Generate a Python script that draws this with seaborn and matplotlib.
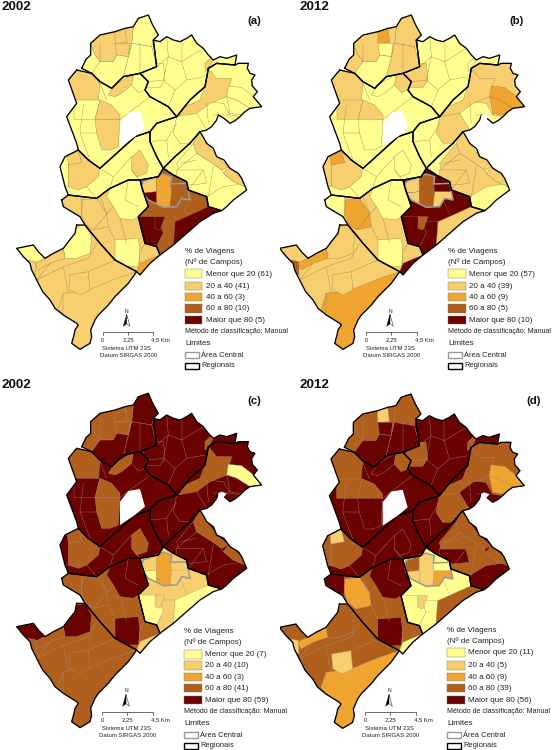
import matplotlib
matplotlib.use("Agg")
import matplotlib.pyplot as plt
import seaborn as sns
from matplotlib.patches import Polygon, Rectangle

# map outlines (a) and reused for all four panels
venda_nova = [(245,205),(258,178),(272,165),(272,130),(300,105),(345,95),(375,85),(400,80),(415,55),(445,45),(458,75),(475,105),(460,120),(470,200),(420,220),(370,230),(335,265),(300,245),(275,220)]
norte = [(460,120),(480,125),(500,110),(520,120),(540,125),(560,115),(575,105),(590,130),(610,145),(625,165),(640,180),(660,170),(680,175),(695,170),(710,165),(705,195),(650,190),(625,205),(615,260),(570,300),(530,350),(505,320),(450,290),(435,270),(445,245),(420,220),(470,200)]
nordeste = [(625,205),(650,190),(705,195),(715,190),(745,190),(742,205),(750,220),(765,225),(755,240),(757,258),(772,275),(760,290),(785,320),(750,325),(735,335),(720,350),(705,362),(690,370),(672,355),(655,345),(650,360),(635,380),(620,390),(600,395),(570,430),(525,470),(490,505),(470,470),(450,425),(450,395),(470,370),(530,350),(570,300),(615,260)]
pampulha = [(230,210),(275,220),(300,245),(335,265),(370,230),(420,220),(445,245),(435,270),(450,290),(505,320),(530,350),(470,370),(450,395),(405,410),(350,460),(300,505),(265,480),(235,450),(230,430),(200,350),(230,310),(205,240)]
noroeste = [(235,450),(265,480),(300,505),(350,460),(405,410),(450,395),(450,425),(470,470),(490,505),(475,530),(420,540),(385,540),(330,565),(290,595),(205,585),(195,560),(180,500),(195,470)]
leste = [(600,395),(612,415),(620,430),(640,445),(650,470),(672,480),(690,505),(715,520),(725,535),(740,570),(720,585),(700,600),(680,620),(665,632),(625,620),(620,590),(565,570),(560,545),(520,525),(490,505),(525,470),(570,430)]
centro_sul = [(420,540),(475,530),(490,505),(520,525),(560,545),(565,570),(620,590),(625,620),(665,632),(640,640),(600,665),(560,700),(520,735),(480,765),(470,740),(435,730),(415,650),(445,620),(435,590),(425,560)]
oeste = [(185,600),(205,585),(290,595),(330,565),(385,540),(420,540),(425,560),(435,590),(445,620),(415,650),(435,730),(470,740),(480,765),(450,790),(420,825),(410,815),(345,780),(300,730),(255,675),(240,650),(190,620)]
barreiro = [(230,675),(255,675),(300,730),(345,780),(410,815),(385,850),(365,870),(345,890),(325,915),(310,930),(295,945),(285,960),(272,990),(275,1010),(270,1030),(240,1048),(215,1030),(222,1005),(225,990),(235,975),(230,970),(190,945),(165,925),(150,900),(128,875),(110,840),(95,810),(90,790),(70,770),(50,745),(100,735),(115,755),(135,775),(160,760),(190,745),(205,725),(225,700)]
regions = [venda_nova, norte, nordeste, pampulha, noroeste, leste, centro_sul, oeste, barreiro]
region_classes = [[0,0,4,4],[0,0,4,4],[0,0,4,4],[0,0,4,4],[0,0,4,4],[0,0,4,4],[3,4,1,0],[1,1,3,3],[1,1,3,3]]

# (region index, polygon, class in a/b/c/d) - later ones paint over earlier ones
zones = [
    (0,[(400,80),(415,55),(445,45),(475,105),(460,120),(455,140),(395,130)],[0,1,4,3]),
    (0,[(395,130),(455,140),(470,200),(420,220),(370,230),(385,170)],[0,1,4,4]),
    (0,[(300,105),(345,95),(400,80),(395,130),(385,170),(350,165),(340,185),(300,185),(285,165),(270,130)],[1,1,3,3]),
    (0,[(345,95),(375,85),(380,128),(345,130)],[1,2,3,1]),
    (0,[(345,130),(390,130),(385,170),(350,165)],[1,0,3,4]),
    (0,[(245,205),(270,130),(285,165),(300,185),(300,210),(275,220)],[0,1,3,3]),
    (0,[(275,220),(300,185),(340,185),(350,165),(385,170),(370,230),(335,265),(300,245)],[0,0,4,4]),
    (1,[(430,190),(490,190),(495,240),(480,262),(440,262),(430,225)],[0,1,4,3]),
    (1,[(615,190),(630,175),(640,180),(625,205),(615,215)],[1,0,3,3]),
    (2,[(625,205),(650,190),(705,195),(715,190),(745,190),(750,220),(765,225),(755,255),(772,275),(785,320),(750,325),(720,350),(690,345),(670,310),(620,305),(615,260)],[0,1,4,3]),
    (2,[(625,205),(650,235),(695,235),(680,290),(630,310),(590,340),(555,385),(530,370),(545,325),(600,300),(615,260)],[1,1,3,3]),
    (2,[(685,258),(725,262),(755,285),(785,320),(750,325),(710,300),(680,290)],[0,2,0,2]),
    (2,[(680,290),(710,300),(750,325),(720,345),(690,340)],[0,2,4,2]),
    (2,[(530,350),(590,340),(620,390),(600,395),(570,430),(540,430),(520,400)],[0,1,4,3]),
    (3,[(215,225),(235,210),(275,220),(300,250),(295,300),(250,315),(225,300),(205,250)],[1,1,3,3]),
    (3,[(370,240),(400,222),(395,255),(365,280),(345,290),(325,285),(345,255)],[1,0,3,4]),
    (3,[(400,222),(420,220),(445,245),(435,270),(415,278),(395,255)],[0,1,4,3]),
    (3,[(222,300),(300,300),(285,358),(222,358)],[0,1,4,3]),
    (3,[(300,300),(335,315),(360,345),(360,358),(285,358)],[1,1,3,3]),
    (3,[(285,358),(360,358),(355,440),(330,450),(305,450),(290,400)],[1,0,3,4]),
    (4,[(235,450),(265,480),(300,505),(295,530),(260,560),(235,570),(205,560),(205,500),(205,470)],[1,1,3,3]),
    (4,[(180,500),(195,470),(205,470),(205,560),(195,560)],[0,1,4,3]),
    (4,[(202,470),(235,450),(245,488),(205,495)],[1,2,3,1]),
    (4,[(395,470),(420,450),(445,495),(440,520),(410,530),(395,510)],[1,0,3,4]),
    (5,[(580,430),(590,460),(630,485),(665,510),(670,520),(700,545),(735,550),(670,560),(620,590),(565,570),(560,545),(540,530),(530,490)],[0,1,4,3]),
    (5,[(600,395),(620,430),(650,470),(685,500),(665,510),(630,485),(590,460),(580,430)],[1,1,3,3]),
    (5,[(685,500),(725,535),(735,560),(700,545),(670,520)],[1,1,3,3]),
    (5,[(530,510),(610,510),(620,550),(570,555),(530,530)],[0,1,4,4]),
    (6,[(415,650),(470,650),(480,665),(490,700),(470,740),(435,730)],[4,4,0,0]),
    (6,[(480,665),(525,665),(520,735),(480,765),(470,740),(490,700)],[3,4,1,0]),
    (6,[(525,665),(570,645),(625,620),(665,632),(640,640),(600,665),(560,700),(520,735)],[4,1,0,3]),
    (6,[(465,650),(495,650),(480,690),(465,685)],[4,3,1,1]),
    (6,[(430,545),(470,530),(470,575),(440,578),(430,580),(425,560)],[1,1,1,3]),
    (6,[(430,580),(440,578),(470,575),(470,612),(445,600)],[4,1,0,1]),
    (6,[(470,530),(490,522),(515,530),(512,552),(515,575),(510,620),(490,622),(470,612)],[2,3,2,1]),
    (6,[(512,552),(560,550),(565,575),(515,580)],[3,4,1,0]),
    (6,[(515,575),(565,575),(570,600),(545,595),(530,620),(510,620)],[3,1,1,2]),
    (7,[(330,565),(385,540),(420,540),(425,560),(435,590),(445,620),(415,650),(400,660),(360,655),(340,620),(320,590)],[0,0,4,4]),
    (7,[(185,600),(205,585),(245,590),(245,645),(240,650),(190,620)],[1,0,3,4]),
    (7,[(247,600),(290,595),(320,640),(325,680),(280,690),(255,670),(245,640)],[1,2,3,2]),
    (7,[(345,720),(415,715),(420,760),(415,800),(380,800),(345,780)],[0,0,4,4]),
    (7,[(435,730),(470,740),(480,765),(455,785),(420,790),(418,760)],[1,1,3,3]),
    (7,[(480,765),(450,790),(420,825),(410,815),(420,790),(455,775)],[2,4,1,0]),
    (8,[(190,745),(225,700),(230,680),(255,675),(275,710),(270,760),(230,775),(195,775)],[0,1,4,3]),
    (8,[(50,745),(100,735),(135,775),(105,790),(85,785)],[0,1,4,3]),
    (8,[(85,780),(108,785),(108,825),(98,820)],[1,3,3,1]),
    (8,[(105,790),(135,775),(190,745),(195,775),(150,790),(115,810)],[1,2,3,2]),
    (8,[(175,925),(190,880),(265,870),(350,835),(410,815),(385,850),(345,890),(310,930),(285,960),(272,990),(275,1010),(270,1030),(240,1048),(215,1030),(225,990),(230,970),(190,945)],[1,2,3,2]),
    (8,[(207,825),(265,815),(270,870),(240,885),(210,870)],[1,1,3,1]),
]

white_hole = [(385,338),(420,332),(435,385),(405,410),(360,440),(360,370)]
small_hole = [(655,345),(665,340),(680,346),(670,358),(655,360)]
small_hole_panels = [False, True, True, True]
central_area = [(430,545),(470,530),(490,522),(515,530),(512,552),(560,550),(565,575),(570,600),(545,595),(530,620),(490,622),(470,612),(445,600),(430,580),(425,560)]

# thin neighbourhood boundaries not covered by the zones above
thin_lines = [
    [(500,110),(505,170),(470,200)], [(505,170),(545,185),(560,240),(525,270),(505,320)], [(545,185),(610,145)],
    [(560,240),(615,230)], [(445,245),(490,240),(525,270)], [(490,240),(505,170)], [(545,125),(545,185)],
    [(450,425),(500,420),(530,370)], [(500,420),(505,470)], [(620,305),(625,370)], [(690,345),(640,345)],
    [(540,490),(590,480)], [(565,570),(610,510)], [(640,500),(625,590)], [(590,460),(530,510)],
    [(110,840),(190,800),(265,775),(290,730)], [(190,800),(205,880)], [(265,815),(345,780)], [(190,880),(190,945)], [(150,790),(110,840)],
    [(300,505),(340,530),(330,565)], [(340,530),(395,470)], [(395,510),(420,540)], [(260,560),(290,595)],
    [(300,250),(320,300)], [(250,315),(240,400),(270,480)], [(290,400),(240,400)], [(360,358),(450,290)],
    [(320,640),(300,590)], [(340,620),(280,690)], [(360,655),(380,730)], [(325,680),(345,720)],
    [(385,540),(375,600),(415,620)], [(300,185),(300,130)], [(420,130),(420,220)],
    [(560,645),(540,600)],
]

class_colors = ["#FFFF8F", "#F8CF6E", "#EFA52F", "#B0601C", "#6A0202"]
legend_labels = {
    "a": ["Menor que 20 (61)", "20 a 40 (41)", "40 a 60 (3)", "60 a 80 (10)", "Maior que 80 (5)"],
    "b": ["Menor que 20 (57)", "20 a 40 (39)", "40 a 60 (9)", "60 a 80 (5)", "Maior que 80 (10)"],
    "c": ["Menor que 20 (7)", "20 a 40 (10)", "40 a 60 (3)", "60 a 80 (41)", "Maior que 80 (59)"],
    "d": ["Menor que 20 (11)", "20 a 40 (5)", "40 a 60 (9)", "60 a 80 (39)", "Maior que 80 (56)"],
}
panel_letters = ["a", "b", "c", "d"]
panel_years = ["2002", "2012", "2002", "2012"]
# pixel spots of the panels and the small differences of their layout (units: 1/3 px)
panel_origin = [(0, 0), (280, 0), (0, 375), (280, 375)]
map_shift = [(0, 0), (-51, 0), (0, 10), (-52, 12)]
year_pos = [(5, 20), (57, 22), (5, 30), (57, 30)]
letter_pos = [(762, 62), (710, 62), (762, 78), (760, 78)]
legend_x = [555, 505, 553, 502]
legend_y = [755, 755, 770, 768]
swatch_y = [[808, 845, 878, 912, 947], [808, 845, 878, 912, 947], [825, 858, 893, 926, 962], [820, 858, 893, 926, 962]]
scale_pos = [(308, 995), (258, 995), (306, 1010), (255, 1010)]

sns.set_theme(style="white")
plt.rcParams["font.family"] = ["Liberation Sans", "DejaVu Sans"]
palette = sns.color_palette(class_colors)

W, H = 558, 750
fig = plt.figure(figsize=(W / 100, H / 100), dpi=100, facecolor="white")


def shifted(points, dx, dy):
    return [(x + dx, y + dy) for x, y in points]


def draw_line(ax, points, color, lw, closed=False):
    pts = list(points) + [points[0]] if closed else list(points)
    sns.lineplot(x=[p[0] for p in pts], y=[p[1] for p in pts], sort=False, estimator=None,
                 color=color, linewidth=lw, ax=ax, legend=False, solid_joinstyle="round")


def draw_legend(ax, k):
    lx, ly = legend_x[k], legend_y[k]
    ax.text(lx, ly, "% de Viagens", fontsize=5.8, va="center", color="#222222")
    ax.text(lx, ly + 30, "(Nº de Campos)", fontsize=5.8, va="center", color="#222222")
    for i, label in enumerate(legend_labels[panel_letters[k]]):
        y0 = swatch_y[k][i]
        ax.add_patch(Rectangle((lx, y0), 52, 26, fc=palette[i], ec="#777777", lw=0.3))
        ax.text(lx + 63, y0 + 14, label, fontsize=5.8, va="center", color="#222222")
    ax.text(lx, swatch_y[k][4] + 48, "Método de classificação: Manual", fontsize=5.1, va="center", color="#222222")
    ax.text(lx, swatch_y[k][4] + 83, "Limites", fontsize=5.9, va="center", color="#222222")
    ax.add_patch(Rectangle((lx, swatch_y[k][4] + 110), 42, 18, fc="white", ec="#999999", lw=1.0))
    ax.text(lx + 48, swatch_y[k][4] + 119, "Área Central", fontsize=5.4, va="center", color="#222222")
    ax.add_patch(Rectangle((lx, swatch_y[k][4] + 141), 42, 18, fc="white", ec="black", lw=1.0))
    ax.text(lx + 48, swatch_y[k][4] + 150, "Regionais", fontsize=5.4, va="center", color="#222222")


def draw_scale(ax, k):
    sx, sy = scale_pos[k]
    draw_line(ax, [(sx, sy + 10), (sx, sy), (sx + 152, sy), (sx + 152, sy + 10)], "#333333", 0.5)
    draw_line(ax, [(sx + 76, sy), (sx + 76, sy + 10)], "#333333", 0.5)
    ax.text(sx, sy + 25, "0", fontsize=4.3, ha="center", va="center", color="#222222")
    ax.text(sx + 76, sy + 25, "2,25", fontsize=4.3, ha="center", va="center", color="#222222")
    ax.text(sx + 174, sy + 25, "4,5 Km", fontsize=4.3, ha="center", va="center", color="#222222")
    ax.text(sx + 72, sy + 50, "Sistema UTM 23S", fontsize=4.3, ha="center", va="center", color="#222222")
    ax.text(sx + 77, sy + 72, "Datum SIRGAS 2000", fontsize=4.3, ha="center", va="center", color="#222222")
    nx = sx + 72
    ax.text(nx, sy - 62, "N", fontsize=3.6, ha="center", va="center", color="#222222")
    ax.add_patch(Polygon([(nx, sy - 52), (nx - 10, sy - 16), (nx, sy - 24)], fc="black", ec="black", lw=0.3))
    ax.add_patch(Polygon([(nx, sy - 52), (nx + 10, sy - 16), (nx, sy - 24)], fc="white", ec="black", lw=0.3))


for k in range(4):
    ox, oy = panel_origin[k]
    ax = fig.add_axes([ox / W, 1 - (oy + 375) / H, 280 / W, 375 / H])
    ax.set_xlim(0, 840)
    ax.set_ylim(1125, 0)
    ax.axis("off")
    dx, dy = map_shift[k]
    thin_color = "#8C7A55" if k < 2 else "#A8948A"

    clips = []
    for poly, classes in zip(regions, region_classes):
        patch = Polygon(shifted(poly, dx, dy), fc=palette[classes[k]], ec="none", zorder=1)
        ax.add_patch(patch)
        clips.append(patch)
    for reg, poly, classes in zones:
        patch = Polygon(shifted(poly, dx, dy), fc=palette[classes[k]], ec=thin_color, lw=0.25, zorder=2)
        ax.add_patch(patch)
        patch.set_clip_path(clips[reg])
    for line in thin_lines:
        draw_line(ax, shifted(line, dx, dy), thin_color, 0.25)
    ax.add_patch(Polygon(shifted(white_hole, dx, dy), fc="white", ec="none", zorder=2.5))
    if small_hole_panels[k]:
        ax.add_patch(Polygon(shifted(small_hole, dx, dy), fc="white", ec="none", zorder=2.5))
    draw_line(ax, shifted(central_area, dx, dy), "#9A9A9A", 1.1, closed=True)
    for poly in regions:
        draw_line(ax, shifted(poly, dx, dy), "black", 0.95, closed=True)

    ax.text(year_pos[k][0], year_pos[k][1], panel_years[k], fontsize=9.6, fontweight="bold", va="center", color="#111111")
    ax.text(letter_pos[k][0], letter_pos[k][1], f"({panel_letters[k]})", fontsize=8.2, fontweight="bold",
            ha="center", va="center", color="#111111")
    draw_legend(ax, k)
    draw_scale(ax, k)

fig.savefig("out.png", dpi=100)
